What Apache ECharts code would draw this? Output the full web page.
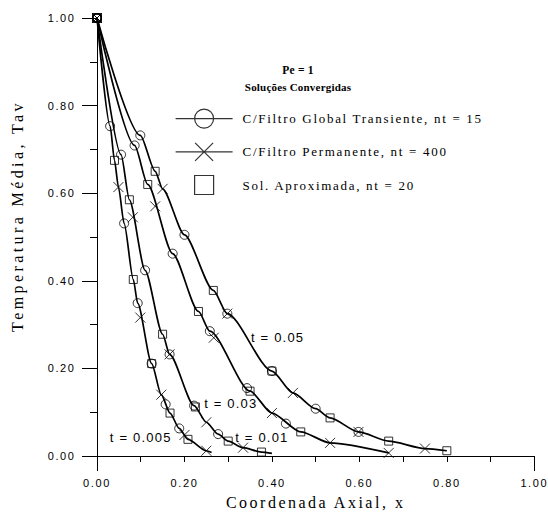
<!DOCTYPE html>
<html><head><meta charset="utf-8">
<script src="https://cdn.jsdelivr.net/npm/echarts@6/dist/echarts.min.js"></script>
<style>
html,body{margin:0;padding:0;background:#fff}
#c{width:548px;height:516px}
#c text[style*="lsT"]{letter-spacing:1.6px}
#c text[style*="lsL"]{letter-spacing:1.7px}
#c text[style*="lsA"]{letter-spacing:2.5px}
#c text[style*="lsY"]{letter-spacing:3.4px}
#c text[style*="lsH"]{letter-spacing:0.2px}
#c text[style*="lsM"]{letter-spacing:1.2px}
</style>
</head><body>
<div id="c"></div>
<script>
// ---- data ----
const timeLabels = ['t = 0.005', 't = 0.01', 't = 0.03', 't = 0.05'];
const xTickLabels = ['0.00','0.20','0.40','0.60','0.80','1.00'];
const yTickLabels = ['0.00','0.20','0.40','0.60','0.80','1.00'];
const legendNames = ['C/Filtro Global Transiente, nt = 15','C/Filtro Permanente, nt = 400','Sol. Aproximada, nt = 20'];

// continuous curves (solid lines)
const curve005 = [[0,1],[0.030,0.753],[0.040,0.675],[0.049,0.614],[0.062,0.531],[0.083,0.403],[0.093,0.349],[0.125,0.211],[0.147,0.140],[0.167,0.098],[0.188,0.063],[0.208,0.038],[0.250,0.012],[0.262,0.008]];
const curve01  = [[0,1],[0.055,0.688],[0.074,0.585],[0.110,0.424],[0.150,0.278],[0.166,0.232],[0.222,0.115],[0.250,0.077],[0.277,0.050],[0.300,0.034],[0.334,0.019],[0.376,0.009],[0.400,0.006]];
const curve03  = [[0,1],[0.086,0.709],[0.116,0.620],[0.173,0.462],[0.232,0.330],[0.258,0.285],[0.350,0.148],[0.400,0.098],[0.466,0.055],[0.533,0.030],[0.667,0.007]];
const curve05  = [[0,1],[0.099,0.732],[0.133,0.650],[0.150,0.610],[0.200,0.505],[0.266,0.378],[0.298,0.325],[0.400,0.194],[0.448,0.144],[0.500,0.108],[0.533,0.087],[0.598,0.055],[0.667,0.034],[0.750,0.017],[0.800,0.012]];

// C/Filtro Global Transiente (circles)
const circ005 = [[0,1],[0.030,0.753],[0.062,0.531],[0.093,0.349],[0.125,0.211],[0.157,0.118],[0.188,0.063]];
const circ01  = [[0,1],[0.055,0.688],[0.110,0.424],[0.166,0.232],[0.222,0.115],[0.277,0.050]];
const circ03  = [[0,1],[0.086,0.709],[0.173,0.462],[0.258,0.285],[0.343,0.155],[0.432,0.074]];
const circ05  = [[0,1],[0.099,0.732],[0.200,0.505],[0.298,0.325],[0.400,0.194],[0.500,0.108],[0.598,0.055]];

// C/Filtro Permanente (crosses)
const cross005 = [[0,1],[0.049,0.614],[0.099,0.316],[0.147,0.140],[0.200,0.048],[0.250,0.012]];
const cross01  = [[0,1],[0.082,0.545],[0.166,0.232],[0.250,0.077],[0.334,0.019]];
const cross03  = [[0,1],[0.133,0.570],[0.267,0.270],[0.400,0.098],[0.533,0.030],[0.667,0.007]];
const cross05  = [[0,1],[0.150,0.610],[0.298,0.325],[0.448,0.144],[0.598,0.055],[0.750,0.017]];

// Sol. Aproximada (squares)
const sq005 = [[0,1],[0.040,0.675],[0.083,0.403],[0.125,0.211],[0.167,0.098],[0.208,0.038]];
const sq01  = [[0,1],[0.074,0.585],[0.150,0.278],[0.225,0.112],[0.300,0.034],[0.376,0.009]];
const sq03  = [[0,1],[0.116,0.620],[0.232,0.330],[0.350,0.148],[0.466,0.055]];
const sq05  = [[0,1],[0.133,0.650],[0.266,0.378],[0.400,0.194],[0.533,0.087],[0.667,0.034],[0.800,0.012]];

// where the "t = ..." annotations sit (data coordinates)
const timeLabelAnchors = [[0.100,0.043],[0.377,0.042],[0.306,0.120],[0.413,0.271]];

// ---- chart ----
const SERIF = "'Liberation Serif', serif";
const SANS = "'Liberation Sans', Arial";
const curves = [curve005, curve01, curve03, curve05];
const circs = [circ005, circ01, circ03, circ05];
const crosses = [cross005, cross01, cross03, cross05];
const squares = [sq005, sq01, sq03, sq05];

const crossPath = 'path://M0,0L10,10M10,0L0,10';
const markerStyle = {color:'transparent', borderColor:'#000', borderWidth:1};

const series = [];
curves.forEach((c, i) => {
  series.push({
    type:'line', name:'curve '+timeLabels[i], data:c, smooth:0.25, smoothMonotone:'x',
    symbol:'none', lineStyle:{color:'#000', width:1.7}, z:2, silent:true,
    markPoint:{
      symbol:'rect', symbolSize:1, itemStyle:{color:'transparent'}, silent:true,
      label:{show:true, position:'inside', formatter:timeLabels[i], color:'#000', fontSize:13, fontFamily:SANS+", lsM"},
      data:[{coord:timeLabelAnchors[i]}]
    }
  });
});
circs.forEach(d => series.push({type:'scatter', name:legendNames[0], data:d, symbol:'circle', symbolSize:9, itemStyle:markerStyle, z:3}));
crosses.forEach(d => series.push({type:'scatter', name:legendNames[1], data:d, symbol:crossPath, symbolSize:10, itemStyle:markerStyle, z:3}));
squares.forEach(d => series.push({type:'scatter', name:legendNames[2], data:d, symbol:'rect', symbolSize:8, itemStyle:markerStyle, z:3}));

const tickText = {color:'#000', fontSize:11, fontFamily:SANS+", lsT"};

const option = {
  animation:false,
  backgroundColor:'#fff',
  grid:{left:97, right:12.5, top:18, bottom:60},
  xAxis:[{
    type:'value', min:0, max:1, interval:0.1,
    axisLine:{lineStyle:{color:'#000', width:1}},
    axisTick:{length:6, lineStyle:{color:'#000', width:1}},
    splitLine:{show:false},
    axisLabel:Object.assign({margin:21, formatter:v => { const k = Math.round(v*10); return k % 2 === 0 ? xTickLabels[k/2] : ''; }}, tickText),
    name:'Coordenada Axial, x', nameLocation:'middle', nameGap:38,
    nameTextStyle:{color:'#000', fontSize:16, fontFamily:SERIF+", lsA"}
  },{
    type:'value', min:0, max:1, interval:1, position:'bottom',
    axisLine:{show:false}, axisLabel:{show:false}, splitLine:{show:false},
    axisTick:{length:15, lineStyle:{color:'#000', width:1}}
  }],
  yAxis:{
    type:'value', min:0, max:1, interval:0.2,
    axisLine:{show:true, lineStyle:{color:'#000', width:1}},
    axisTick:{show:true, length:15, lineStyle:{color:'#000', width:1}},
    minorTick:{show:true, splitNumber:2, length:7, lineStyle:{color:'#000', width:1}},
    splitLine:{show:false}, minorSplitLine:{show:false},
    axisLabel:Object.assign({margin:21.5, formatter:v => yTickLabels[Math.round(v*5)]}, tickText)
  },
  legend:{
    orient:'vertical', left:175, top:108, padding:0, itemWidth:57, itemHeight:20, itemGap:12,
    selectedMode:false,
    itemStyle:{color:'transparent', borderColor:'#000', borderWidth:1.2},
    textStyle:{color:'#000', fontSize:13, fontFamily:SERIF+", lsL", padding:[0,0,0,5]},
    data:[
      {name:legendNames[0], icon:'path://M0,0M57,20M0,10L57,10M38,10A9.5,9.5,0,1,1,19,10A9.5,9.5,0,1,1,38,10'},
      {name:legendNames[1], icon:'path://M0,0M57,20M0,10L57,10M19.5,1L37.5,19M37.5,1L19.5,19'},
      {name:legendNames[2], icon:'path://M0,0M57,20M19,0.5L38,0.5L38,19.5L19,19.5Z'}
    ]
  },
  graphic:[
    {type:'text', x:298, y:70, silent:true, style:{text:'Pe = 1', fill:'#000', font:"bold 11.5px 'Liberation Serif', lsH", align:'center', verticalAlign:'middle', textAlign:'center', textVerticalAlign:'middle'}},
    {type:'text', x:298, y:87, silent:true, style:{text:'Soluções Convergidas', fill:'#000', font:"bold 11px 'Liberation Serif', lsH", align:'center', verticalAlign:'middle', textAlign:'center', textVerticalAlign:'middle'}},
    {type:'text', x:17, y:216, rotation:Math.PI/2, silent:true, style:{text:'Temperatura Média, Tav', fill:'#000', font:"16px 'Liberation Serif', lsY", align:'center', verticalAlign:'middle', textAlign:'center', textVerticalAlign:'middle'}}
  ],
  series
};
const chart = echarts.init(document.getElementById('c'), null, {renderer:'svg'});
chart.setOption(option);
</script>
</body></html>
